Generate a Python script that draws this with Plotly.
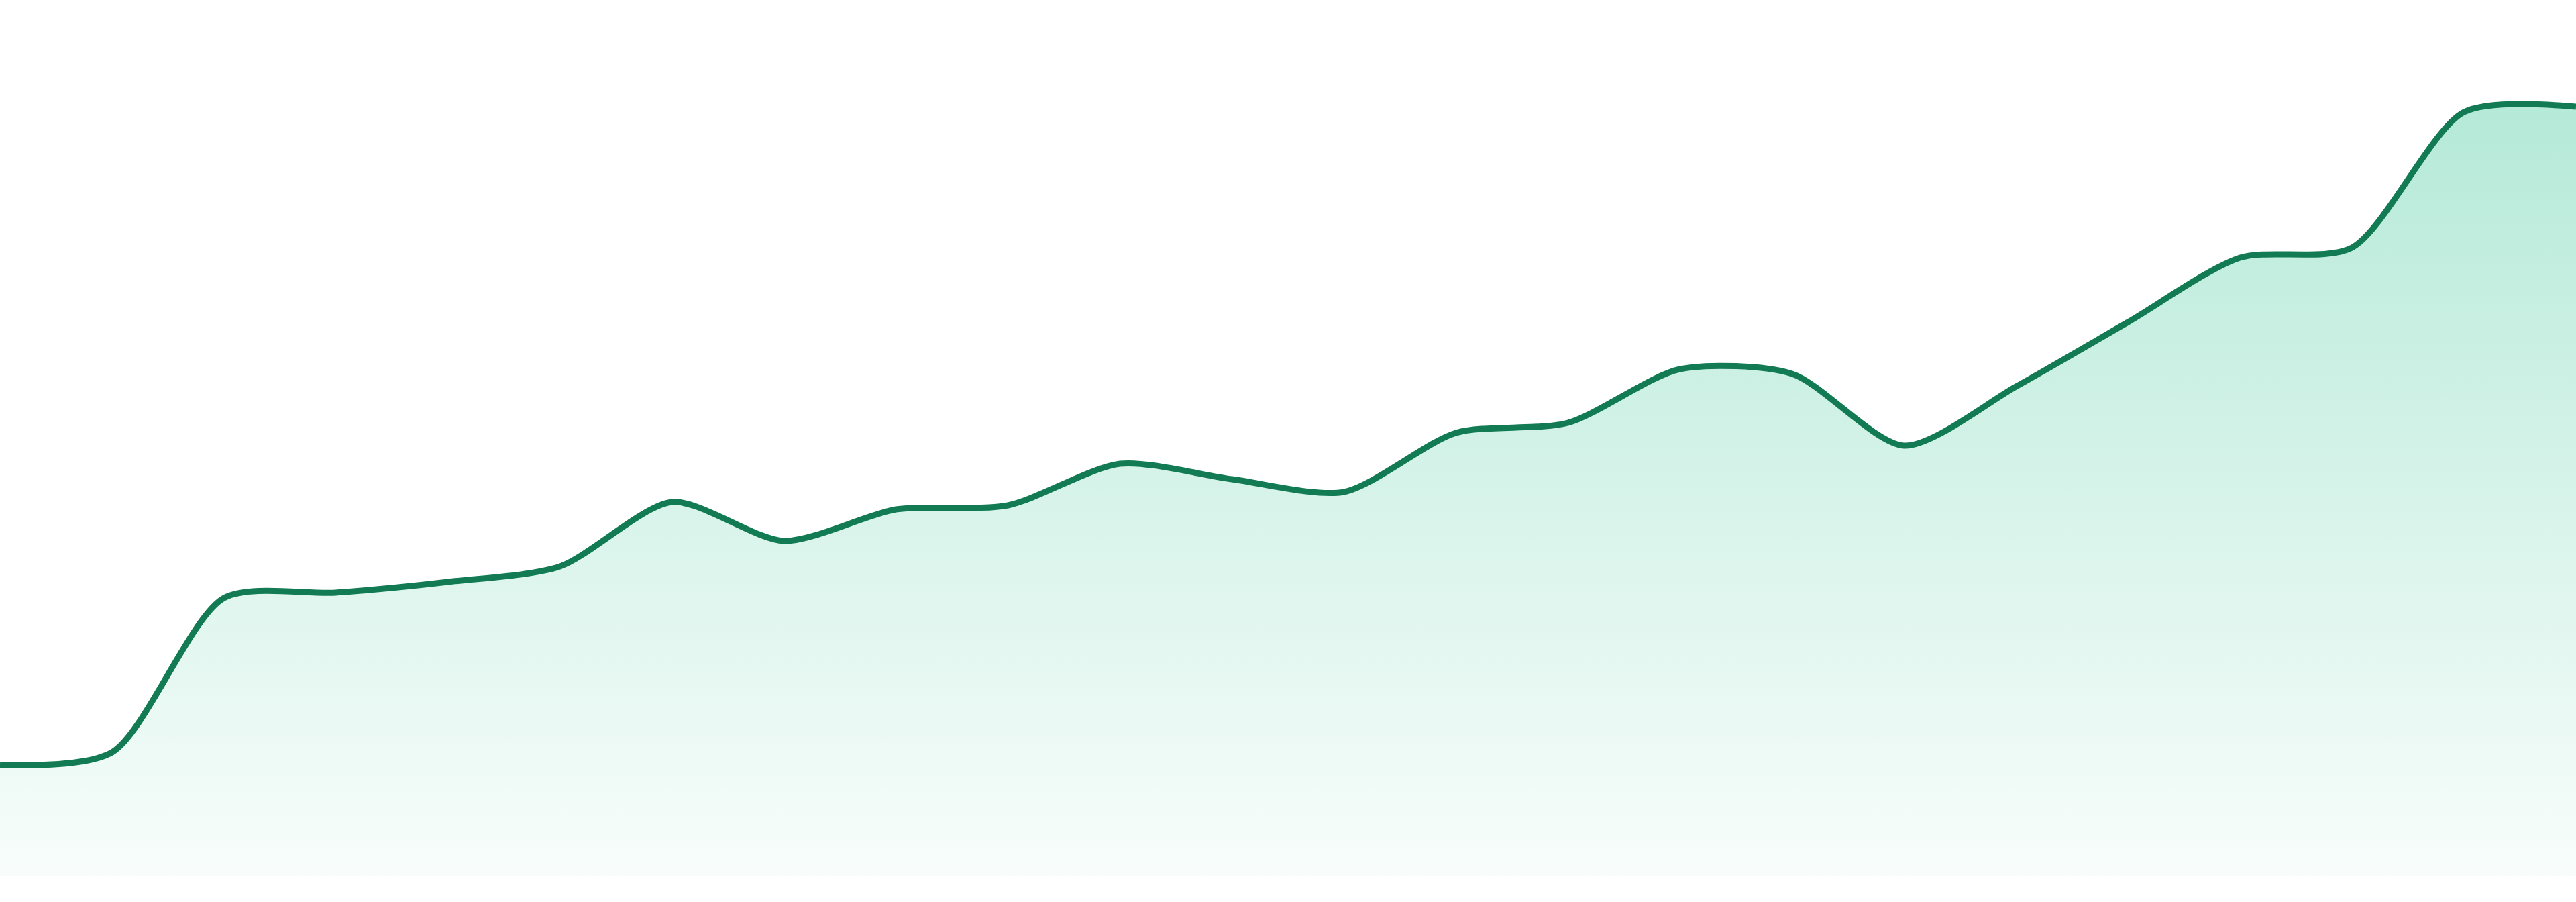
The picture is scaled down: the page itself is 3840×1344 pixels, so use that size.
import plotly.graph_objects as go

# one value per period
periods = list(range(24))
values = [16.5, 18.4, 41.4, 42.2, 43.8, 46.1, 55.7, 49.9, 54.6, 55.2, 61.4, 59.1,
          57.2, 66.0, 67.5, 75.5, 74.8, 64.1, 72.9, 82.5, 92.1, 93.6, 113.8, 114.6]

line_color = "#127b53"

fig = go.Figure()
fig.add_trace(
    go.Scatter(
        x=periods,
        y=values,
        mode="lines",
        line=dict(color=line_color, width=9, shape="spline", smoothing=0.75),
        fill="tozeroy",
        fillgradient=dict(
            type="vertical",
            colorscale=[[0, "rgba(16,185,129,0.03)"], [1, "rgba(16,185,129,0.31)"]],
        ),
        hoverinfo="skip",
        showlegend=False,
    )
)

fig.update_layout(
    width=3840,
    height=1344,
    margin=dict(l=0, r=0, t=0, b=39),
    paper_bgcolor="white",
    plot_bgcolor="white",
    xaxis=dict(range=[0, 23], visible=False, fixedrange=True),
    yaxis=dict(range=[0, 130.5], visible=False, fixedrange=True),
)

# page body has a default margin, drop it so the chart sits edge to edge
fig.write_html(
    "out.html",
    config={"displayModeBar": False},
    post_script="document.body.style.margin='0';",
)
